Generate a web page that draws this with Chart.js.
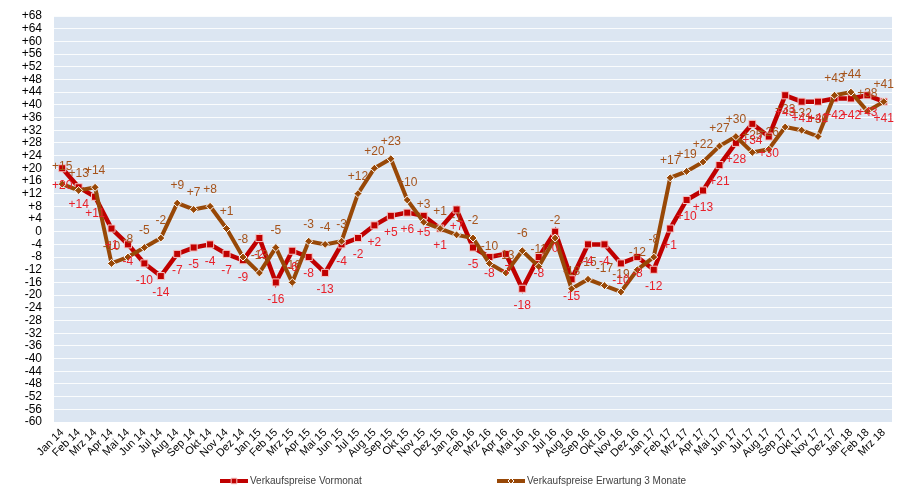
<!DOCTYPE html>
<html>
<head>
<meta charset="utf-8">
<script src="https://cdn.jsdelivr.net/npm/chart.js@4.4.1/dist/chart.umd.min.js"></script>
<style>
html, body { margin: 0; padding: 0; background: #fff; }
</style>
</head>
<body>
<canvas id="chart" width="901" height="487"></canvas>
<script>
// categories (Jan 14 .. Mrz 18)
var categories = [
    "Jan 14", "Feb 14", "Mrz 14", "Apr 14", "Mai 14", "Jun 14", "Jul 14", "Aug 14", "Sep 14", "Okt 14", "Nov 14", "Dez 14",
    "Jan 15", "Feb 15", "Mrz 15", "Apr 15", "Mai 15", "Jun 15", "Jul 15", "Aug 15", "Sep 15", "Okt 15", "Nov 15", "Dez 15",
    "Jan 16", "Feb 16", "Mrz 16", "Apr 16", "Mai 16", "Jun 16", "Jul 16", "Aug 16", "Sep 16", "Okt 16", "Nov 16", "Dez 16",
    "Jan 17", "Feb 17", "Mrz 17", "Apr 17", "Mai 17", "Jun 17", "Jul 17", "Aug 17", "Sep 17", "Okt 17", "Nov 17", "Dez 17",
    "Jan 18", "Feb 18", "Mrz 18"
];

// Verkaufspreise Vormonat
var vormonat = [
    20, 14, 11, 1, -4, -10, -14, -7, -5, -4, -7, -9,
    -2, -16, -6, -8, -13, -4, -2, 2, 5, 6, 5, 1,
    7, -5, -8, -7, -18, -8, 0, -15, -4, -4, -10, -8,
    -12, 1, 10, 13, 21, 28, 34, 30, 43, 41, 41, 42,
    42, 43, 41
];

// Verkaufspreise Erwartung 3 Monate
var erwartung = [
    15, 13, 14, -10, -8, -5, -2, 9, 7, 8, 1, -8,
    -13, -5, -16, -3, -4, -3, 12, 20, 23, 10, 3, 1,
    -1, -2, -10, -13, -6, -11, -2, -18, -15, -17, -19, -12,
    -8, 17, 19, 22, 27, 30, 25, 26, 33, 32, 30, 43,
    44, 38, 41
];

var yMin = -60, yMax = 68, yStep = 4;

const FONT = '"Liberation Sans", Arial, sans-serif';

function fmt(v) {
    if (v > 0) return "+" + v;
    return String(v);
}

// plot area background
var plotBg = {
    id: "plotBg",
    beforeDraw(chart) {
        let a = chart.chartArea, ctx = chart.ctx;
        ctx.save();
        ctx.fillStyle = "#dce6f2";
        ctx.fillRect(a.left, a.top, a.right - a.left, a.bottom - a.top);
        ctx.restore();
    }
};

// value labels (red below the point, brown above)
var valueLabels = {
    id: "valueLabels",
    afterDatasetsDraw(chart) {
        let ctx = chart.ctx;
        ctx.save();
        ctx.font = "12px " + FONT;
        ctx.textAlign = "center";
        ctx.textBaseline = "middle";
        chart.data.datasets.forEach((ds, i) => {
            let meta = chart.getDatasetMeta(i);
            ctx.fillStyle = ds.labelColor;
            meta.data.forEach((pt, j) => {
                ctx.fillText(fmt(ds.data[j]), pt.x, pt.y + ds.labelShift);
            });
        });
        ctx.restore();
    }
};

// legend at the bottom: line + marker + text
var lineLegend = {
    id: "lineLegend",
    afterDraw(chart) {
        let ctx = chart.ctx;
        let y = 481;
        let items = [
            { ds: chart.data.datasets[1], x: 220 },
            { ds: chart.data.datasets[0], x: 497 }
        ];
        ctx.save();
        ctx.font = "10px " + FONT;
        ctx.textBaseline = "middle";
        items.forEach((it) => {
            let ds = it.ds;
            ctx.strokeStyle = ds.borderColor;
            ctx.lineWidth = 4;
            ctx.beginPath();
            ctx.moveTo(it.x, y);
            ctx.lineTo(it.x + 28, y);
            ctx.stroke();
            ctx.fillStyle = ds.pointBackgroundColor;
            ctx.strokeStyle = ds.pointBorderColor;
            ctx.lineWidth = 1;
            Chart.helpers.drawPoint(ctx, {
                pointStyle: ds.pointStyle,
                radius: ds.pointRadius - 1,
                borderWidth: 1
            }, it.x + 14, y);
            ctx.fillStyle = "#404040";
            ctx.fillText(ds.label, it.x + 30, y);
        });
        ctx.restore();
    }
};

var chart = new Chart(document.getElementById("chart"), {
    type: "line",
    data: {
        labels: categories,
        datasets: [
            {
                label: "Verkaufspreise Erwartung 3 Monate",
                data: erwartung,
                borderColor: "#984807",
                borderWidth: 4,
                pointStyle: "rectRot",
                pointRadius: 4,
                pointBackgroundColor: "#984807",
                pointBorderColor: "#ffffff",
                pointBorderWidth: 1,
                tension: 0,
                labelColor: "#a5531b",
                labelShift: -17
            },
            {
                label: "Verkaufspreise Vormonat",
                data: vormonat,
                borderColor: "#c00000",
                borderWidth: 4.5,
                pointStyle: "rect",
                pointRadius: 5,
                pointBackgroundColor: "#c00000",
                pointBorderColor: "#f6c8c8",
                pointBorderWidth: 1,
                tension: 0,
                labelColor: "#e8202a",
                labelShift: 17
            }
        ]
    },
    options: {
        responsive: false,
        animation: false,
        devicePixelRatio: 1,
        layout: {
            padding: { top: 16, right: 9, left: 0, bottom: 0 }
        },
        plugins: {
            legend: { display: false },
            tooltip: { enabled: false }
        },
        scales: {
            x: {
                offset: true,
                grid: { display: false, drawTicks: false },
                border: { display: false },
                ticks: {
                    autoSkip: false,
                    minRotation: 45,
                    maxRotation: 45,
                    padding: 4,
                    color: "#000",
                    font: { family: FONT, size: 11 }
                },
                afterFit(scale) {
                    scale.height = 65;
                }
            },
            y: {
                min: yMin,
                max: yMax,
                grid: {
                    color: "rgba(255,255,255,0.85)",
                    lineWidth: 1,
                    drawTicks: true,
                    tickLength: 12,
                    tickColor: "rgba(0,0,0,0)"
                },
                border: { display: false },
                ticks: {
                    stepSize: yStep,
                    autoSkip: false,
                    padding: 0,
                    color: "#000",
                    font: { family: FONT, size: 12 },
                    callback: (v) => fmt(v)
                },
                afterFit(scale) {
                    scale.width = 54;
                }
            }
        }
    },
    plugins: [plotBg, valueLabels, lineLegend]
});
</script>
</body>
</html>
